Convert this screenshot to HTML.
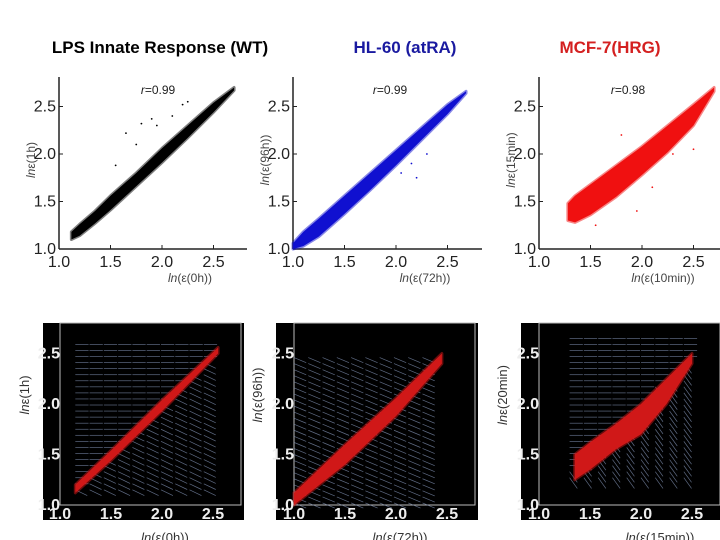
<!DOCTYPE html>
<html><head><meta charset="utf-8"><style>
html,body{margin:0;padding:0;background:#fff;}
svg{display:block;font-family:"Liberation Sans",sans-serif;}
.tk{font-family:"Liberation Sans Narrow","Liberation Sans",sans-serif;font-size:16px;}
</style></head><body>
<svg id="fig" width="720" height="540" viewBox="0 0 720 540">
<text x="160" y="53" text-anchor="middle" font-size="17" font-weight="bold" fill="#000">LPS Innate Response (WT)</text>
<text x="405" y="53" text-anchor="middle" font-size="17" font-weight="bold" fill="#1a1aa0">HL-60 (atRA)</text>
<text x="610" y="53" text-anchor="middle" font-size="17" font-weight="bold" fill="#d42020">MCF-7(HRG)</text>
</svg>
<script>
// ---- data: scatter bands (x, lower y, upper y) ----
const lpsX  = [1.12,1.2,1.35,1.5,1.75,2.0,2.25,2.5,2.7];
const lpsLo = [1.10,1.14,1.27,1.41,1.66,1.91,2.17,2.44,2.67];
const lpsHi = [1.18,1.26,1.40,1.56,1.80,2.06,2.30,2.54,2.70];
const hlX   = [1.0,1.1,1.25,1.5,1.75,2.0,2.25,2.5,2.68];
const hlLo  = [1.0,1.03,1.13,1.37,1.62,1.88,2.15,2.42,2.64];
const hlHi  = [1.06,1.18,1.32,1.56,1.80,2.04,2.28,2.52,2.66];
const mcfX  = [1.28,1.35,1.5,1.75,2.0,2.25,2.5,2.7];
const mcfLo = [1.30,1.28,1.36,1.55,1.78,2.02,2.30,2.66];
const mcfHi = [1.48,1.56,1.68,1.88,2.08,2.30,2.52,2.70];
// outliers
const lpsOutX = [1.65,1.8,1.9,1.95,2.1,2.2,2.25,1.55,1.75];
const lpsOutY = [2.22,2.32,2.37,2.3,2.4,2.52,2.55,1.88,2.1];
const hlOutX  = [2.15,2.2,2.05,2.3];
const hlOutY  = [1.9,1.75,1.8,2.0];
const mcfOutX = [1.8,2.3,2.5,2.1,1.95,1.55];
const mcfOutY = [2.2,2.0,2.05,1.65,1.4,1.25];
// stream-plot red density bands
const sLpsX=[1.15,1.5,2.0,2.55], sLpsLo=[1.12,1.44,1.93,2.5], sLpsHi=[1.2,1.54,2.04,2.56];
const sHlX=[1.0,1.5,2.0,2.45], sHlLo=[1.0,1.4,1.88,2.4], sHlHi=[1.12,1.6,2.06,2.5];
const sMcfX=[1.35,1.5,1.75,2.0,2.25,2.5], sMcfLo=[1.25,1.35,1.55,1.7,2.0,2.4], sMcfHi=[1.5,1.62,1.8,2.0,2.25,2.5];
const xTicks=[1.0,1.5,2.0,2.5], yTicks=[1.0,1.5,2.0,2.5];
const tickLabels=["1.0","1.5","2.0","2.5"];

const NS="http://www.w3.org/2000/svg", svg=document.getElementById('fig');
function mk(tag,attrs,parent){const e=document.createElementNS(NS,tag);for(const k in attrs)e.setAttribute(k,attrs[k]);(parent||svg).appendChild(e);return e;}
function scale(p0,p1,v0,v1){return v=>p0+(v-v0)*(p1-p0)/(v1-v0);}

function band(g,X,Lo,Hi,sx,sy,color,name){
  let pts=[];X.forEach((x,i)=>pts.push(sx(x)+','+sy(Hi[i])));
  for(let i=X.length-1;i>=0;i--)pts.push(sx(X[i])+','+sy(Lo[i]));
  const p=mk('polygon',{points:pts.join(' '),fill:color,stroke:color,'stroke-width':3,'stroke-opacity':0.5,'stroke-linejoin':'round'},g);
  
  
}
function topPanel(o){
  const g=mk('g',{});
  
  
  const sx=scale(o.x0,o.x0+103,1,2),sy=scale(249,154,1,2);
  mk('line',{x1:o.x0,y1:77,x2:o.x0,y2:249,stroke:'#222','stroke-width':1.5},g);
  mk('line',{x1:o.x0,y1:249,x2:o.xEnd,y2:249,stroke:'#222','stroke-width':1.5},g);
  xTicks.forEach((t,i)=>{mk('line',{x1:sx(t),y1:249,x2:sx(t),y2:245,stroke:'#222'},g);
    const e=mk('text',{x:sx(t),y:267,'text-anchor':'middle',class:'tk',fill:'#222'},g);e.textContent=tickLabels[i];
    
    });
  yTicks.forEach((t,i)=>{mk('line',{x1:o.x0,y1:sy(t),x2:o.x0+4,y2:sy(t),stroke:'#222'},g);
    const e=mk('text',{x:o.x0-3,y:sy(t)+5,'text-anchor':'end',class:'tk',fill:'#222'},g);e.textContent=tickLabels[i];
    
    });
  band(g,o.X,o.Lo,o.Hi,sx,sy,o.color,'scatter-band');
  o.oX.forEach((x,i)=>{const c=mk('circle',{cx:sx(x),cy:sy(o.oY[i]),r:0.9,fill:o.color},g);
    
    });
  const r=mk('text',{x:o.rx,y:94,'text-anchor':'middle','font-size':12,fill:'#222'},g);
  r.innerHTML='<tspan font-style="italic">r</tspan>='+o.r;
  
  
  const xl=mk('text',{x:o.xlx,y:o.xly,'text-anchor':'middle','font-size':12,fill:'#444'},g);
  xl.innerHTML='<tspan font-style="italic">ln</tspan>('+o.xl+')';
  
  
  const yl=mk('text',{x:0,y:0,'text-anchor':'middle','font-size':12,fill:'#444',transform:`translate(${o.x0-24},160) rotate(-90)`},g);
  yl.innerHTML='<tspan font-style="italic">ln</tspan>'+o.yl;
  
  
}
function botPanel(o){
  const g=mk('g',{});
  
  
  const sx=scale(o.x0,o.x0+102,1,2),sy=scale(505,404,1,2);
  mk('rect',{x:o.bx,y:323,width:o.bw,height:197,fill:'#000'},g);
  mk('rect',{x:o.x0,y:323,width:o.bx+o.bw-o.x0-3,height:182,fill:'#000',stroke:'#bbb','stroke-width':1},g);
  // streamlines (decorative)
  const sg=mk('g',{stroke:'#7f8fb0','stroke-width':0.7,opacity:0.75},g);
  for(let yv=o.sy0;yv<=o.sy1;yv+=0.06){for(let xv=o.sx0;xv<=o.sx1;xv+=0.14){
    const above=(yv-xv)>0.05 && o.horiz;
    const ang=above?0:o.ang;
    const L=0.13,dx=L*Math.cos(ang),dy=L*Math.sin(ang);
    mk('line',{x1:sx(xv),y1:sy(yv),x2:sx(xv+dx),y2:sy(yv+dy)},sg);}}
  band(g,o.X,o.Lo,o.Hi,sx,sy,'#d01818','density-band');
  xTicks.forEach((t,i)=>{const e=mk('text',{x:sx(t),y:519,'text-anchor':'middle',class:'tk','font-weight':'bold',fill:'#eee'},g);e.textContent=tickLabels[i];
    
    });
  yTicks.forEach((t,i)=>{const e=mk('text',{x:o.x0,y:sy(t)+5,'text-anchor':'end',class:'tk','font-weight':'bold',fill:'#eee','font-size':13},g);e.textContent=tickLabels[i];
    
    });
  const xl=mk('text',{x:o.xlx,y:542,'text-anchor':'middle','font-size':13,fill:'#333'},g);
  xl.innerHTML='<tspan font-style="italic">ln</tspan>('+o.xl+')';
  
  
  const yl=mk('text',{x:0,y:0,'text-anchor':'middle','font-size':13,fill:'#333',transform:`translate(${o.bx-14},395) rotate(-90)`},g);
  yl.innerHTML='<tspan font-style="italic">ln</tspan>'+o.yl;
  
  
}
topPanel({name:'lps-scatter',x0:59,xEnd:247,X:lpsX,Lo:lpsLo,Hi:lpsHi,oX:lpsOutX,oY:lpsOutY,color:'#000',r:'0.99',rx:158,xl:'ε(0h)',xlx:190,xly:282,yl:'ε(1h)'});
topPanel({name:'hl60-scatter',x0:293,xEnd:482,X:hlX,Lo:hlLo,Hi:hlHi,oX:hlOutX,oY:hlOutY,color:'#1010d0',r:'0.99',rx:390,xl:'ε(72h)',xlx:425,xly:282,yl:'(ε(96h))'});
topPanel({name:'mcf7-scatter',x0:539,xEnd:720,X:mcfX,Lo:mcfLo,Hi:mcfHi,oX:mcfOutX,oY:mcfOutY,color:'#f01010',r:'0.98',rx:628,xl:'ε(10min)',xlx:663,xly:282,yl:'ε(15min)'});
botPanel({name:'lps-stream',bx:43,bw:201,x0:60,X:sLpsX,Lo:sLpsLo,Hi:sLpsHi,sx0:1.15,sx1:2.55,sy0:1.15,sy1:2.6,horiz:true,ang:-0.45,xl:'ε(0h)',xlx:165,yl:'ε(1h)'});
botPanel({name:'hl60-stream',bx:276,bw:202,x0:294,X:sHlX,Lo:sHlLo,Hi:sHlHi,sx0:1.0,sx1:2.4,sy0:1.02,sy1:2.5,horiz:false,ang:-0.4,xl:'ε(72h)',xlx:400,yl:'(ε(96h))'});
botPanel({name:'mcf7-stream',bx:521,bw:202,x0:539,X:sMcfX,Lo:sMcfLo,Hi:sMcfHi,sx0:1.3,sx1:2.55,sy0:1.27,sy1:2.68,horiz:true,ang:-0.95,xl:'ε(15min)',xlx:660,yl:'ε(20min)'});
</script>
</body></html>
